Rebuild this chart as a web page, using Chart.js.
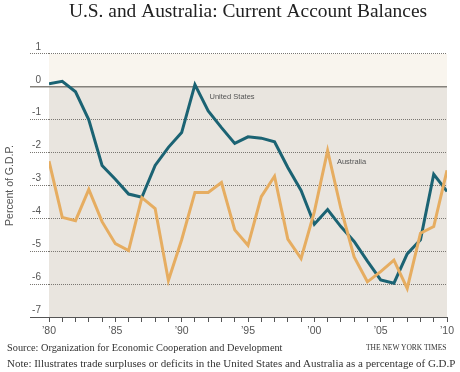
<!DOCTYPE html>
<html>
<head>
<meta charset="utf-8">
<script src="https://cdn.jsdelivr.net/npm/chart.js@4.4.1/dist/chart.umd.min.js"></script>
<style>
  html, body { margin: 0; padding: 0; background: #fff; }
  #wrap { position: relative; width: 460px; height: 372px; }
  .foot { position: absolute; font-family: "Liberation Serif", serif; color: #333; white-space: nowrap; line-height: 1; }
</style>
</head>
<body>
<div id="wrap">
  <canvas id="chart" width="460" height="372"></canvas>
  <div class="foot" style="left:7px; top:342.5px; font-size:10.3px;">Source: Organization for Economic Cooperation and Development</div>
  <div class="foot" style="left:366px; top:344px; font-size:7.5px;">THE NEW YORK TIMES</div>
  <div class="foot" style="left:7px; top:358px; font-size:11px;">Note: Illustrates trade surpluses or deficits in the United States and Australia as a percentage of G.D.P</div>
</div>
<script>
// Current account balance, percent of G.D.P.
const years = [1980, 1981, 1982, 1983, 1984, 1985, 1986, 1987, 1988, 1989,
               1990, 1991, 1992, 1993, 1994, 1995, 1996, 1997, 1998, 1999,
               2000, 2001, 2002, 2003, 2004, 2005, 2006, 2007, 2008, 2009, 2010];
const usBalance = [0.09, 0.17, -0.15, -1.0, -2.39, -2.81, -3.26, -3.36, -2.39, -1.84,
                   -1.39, 0.07, -0.73, -1.24, -1.72, -1.52, -1.56, -1.67, -2.45, -3.15,
                   -4.18, -3.73, -4.25, -4.7, -5.3, -5.87, -5.97, -5.08, -4.65, -2.66, -3.18];
const ausBalance = [-2.26, -3.97, -4.07, -3.12, -4.1, -4.77, -4.98, -3.37, -3.7, -5.89,
                    -4.65, -3.21, -3.21, -2.91, -4.35, -4.82, -3.34, -2.72, -4.63, -5.22,
                    -3.8, -1.94, -3.7, -5.17, -5.93, -5.62, -5.27, -6.13, -4.45, -4.25, -2.54];
const yTicks = [1, 0, -1, -2, -3, -4, -5, -6, -7];

// light band above zero, darker band below
const bands = {
  id: 'bands',
  beforeDraw(chart) {
    const { ctx, chartArea: a, scales: { y } } = chart;
    const top = y.getPixelForValue(1), zero = y.getPixelForValue(0), bot = y.getPixelForValue(-7);
    ctx.save();
    ctx.fillStyle = '#f9f5ee';
    ctx.fillRect(a.left, top, a.width, zero - top);
    ctx.fillStyle = '#e9e5df';
    ctx.fillRect(a.left, zero, a.width, bot - zero);
    ctx.restore();
  }
};

// series names next to the lines
const lineLabels = {
  id: 'lineLabels',
  afterDatasetsDraw(chart) {
    const { ctx, scales: { x, y } } = chart;
    ctx.save();
    ctx.font = '7.5px "Liberation Sans", Arial, sans-serif';
    ctx.fillStyle = '#555';
    ctx.textBaseline = 'middle';
    ctx.fillText('United States', x.getPixelForValue(1992.1), y.getPixelForValue(-0.32));
    ctx.fillText('Australia', x.getPixelForValue(2001.7), y.getPixelForValue(-2.27));
    ctx.restore();
  }
};

const solid = v => v === 0 || v === -7;

new Chart(document.getElementById('chart'), {
  type: 'line',
  data: {
    datasets: [
      {
        label: 'United States',
        data: years.map((yr, i) => ({ x: yr, y: usBalance[i] })),
        borderColor: '#1b6373',
        borderWidth: 3,
        pointRadius: 0,
        order: 2
      },
      {
        label: 'Australia',
        data: years.map((yr, i) => ({ x: yr, y: ausBalance[i] })),
        borderColor: '#e6ad61',
        borderWidth: 3,
        pointRadius: 0,
        order: 1
      }
    ]
  },
  options: {
    responsive: false,
    animation: false,
    layout: { padding: { left: 0, right: 13, top: 0, bottom: 31 } },
    plugins: {
      legend: { display: false },
      tooltip: { enabled: false },
      title: {
        display: true,
        fullSize: false,
        text: 'U.S. and Australia: Current Account Balances',
        color: '#222',
        font: { family: '"Liberation Serif", serif', size: 19.4, weight: 'normal' },
        padding: { top: 0, bottom: 30.7 }
      }
    },
    scales: {
      x: {
        type: 'linear',
        min: 1980,
        max: 2010,
        afterFit(s) { s.height = 24; },
        ticks: {
          stepSize: 1,
          autoSkip: false,
          maxRotation: 0,
          padding: 3,
          color: '#555',
          font: { family: '"Liberation Sans", Arial, sans-serif', size: 10.5 },
          callback: v => v % 5 === 0 ? '\u2019' + String(v).slice(2) : ''
        },
        grid: { drawOnChartArea: false, tickLength: 5, color: '#555' },
        border: { color: '#555', width: 1 }
      },
      y: {
        min: -7,
        max: 1,
        afterFit(s) { s.width = 49; },
        afterBuildTicks(s) { s.ticks = yTicks.map(v => ({ value: v })); },
        ticks: {
          padding: -11,
          labelOffset: -7,
          color: '#555',
          font: { family: '"Liberation Sans", Arial, sans-serif', size: 10 }
        },
        grid: {
          tickLength: 19,
          color: c => c.tick && c.tick.value === 0 ? '#85827c' : (c.tick && c.tick.value === -7 ? '#555' : '#7a7772'),
          lineWidth: c => c.tick && c.tick.value === 0 ? 1.5 : 1,
          tickBorderDash: c => c.tick && solid(c.tick.value) ? [] : [1, 1]
        },
        border: {
          display: false,
          dash: c => c.tick && solid(c.tick.value) ? [] : [1, 1]
        },
        title: {
          display: true,
          text: 'Percent of G.D.P.',
          color: '#555',
          font: { family: '"Liberation Sans", Arial, sans-serif', size: 10.5 },
          padding: { top: 4, bottom: 0 }
        }
      }
    }
  },
  plugins: [bands, lineLabels]
});
</script>
</body>
</html>
